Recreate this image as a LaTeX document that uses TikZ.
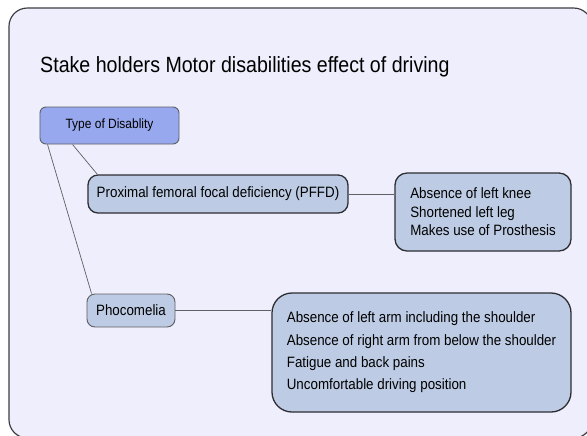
\documentclass[tikz,border=0pt]{standalone}
\usepackage{fontspec}
\setmainfont{Liberation Sans}[FakeStretch=0.89]
\usetikzlibrary{positioning}

\definecolor{pagebg}{RGB}{238,238,252}
\definecolor{framec}{RGB}{60,60,66}
\definecolor{typefill}{RGB}{152,168,238}
\definecolor{itemfill}{RGB}{189,204,228}
\definecolor{itemline}{RGB}{45,45,50}
\definecolor{linkc}{RGB}{95,95,100}

\begin{document}
\begin{tikzpicture}[x=.03cm,y=-.03cm,font=\fontsize{12.8}{15.8}\selectfont,
 frame/.style={draw=framec,line width=1pt,fill=pagebg,rounded corners=.55cm},
 typebox/.style={draw=linkc,line width=.8pt,fill=typefill,rounded corners=.18cm,
  minimum width=4.17cm,minimum height=1.11cm,inner sep=0pt,font=\fontsize{11.5}{13}\selectfont},
 subbox/.style={draw=itemline,line width=1.1pt,fill=itemfill,rounded corners=.3cm,
  minimum height=1.14cm,inner sep=0pt},
 smallbox/.style={draw=linkc,line width=.8pt,fill=itemfill,rounded corners=.24cm,
  minimum height=.99cm,inner sep=0pt},
 notebox/.style={draw=itemline,line width=1.1pt,fill=itemfill,align=left,inner sep=0pt},
 link/.style={draw=linkc,line width=.6pt}]
 \useasboundingbox (0,0) rectangle (587,435);
 \clip (0,0) rectangle (587,435);
 \path[frame] (9,8) rectangle (592,438);
 \node[anchor=base west,inner sep=0pt,font=\fontsize{18.8}{22}\selectfont] (title) at (40,72)
  {Stake holders Motor disabilities effect of driving};
 % types and their effects
 \node[typebox] (type) at (109.5,125.5) {Type of Disablity};
 \node[subbox,minimum width=7.8cm] (pffd) at (218,194)
  {Proximal femoral focal deficiency (PFFD)};
 \node[notebox,rounded corners=.36cm,minimum width=5.28cm,minimum height=2.34cm] (knee) at (483,212)
  {Absence of left knee\\Shortened left leg\\Makes use of Prosthesis};
 \node[smallbox,minimum width=2.64cm] (phoc) at (131,310.5) {Phocomelia};
 \node[notebox,rounded corners=.6cm,minimum width=8.97cm,minimum height=3.57cm] (arm) at (421.5,352.5)
  {Absence of left arm including the shoulder\\[3.2pt]
   Absence of right arm from below the shoulder\\[3.2pt]
   Fatigue and back pains\\[3.2pt]
   Uncomfortable driving position};
 \draw[link] ([xshift=.99cm]type.south west) -- ([xshift=.3cm]pffd.north west);
 \draw[link] ([xshift=.24cm]type.south west) -- ([xshift=.15cm]phoc.north west);
 \draw[link] (pffd.east) -- (pffd.east -| knee.west);
 \draw[link] (phoc.east) -- (phoc.east -| arm.west);
\end{tikzpicture}
\end{document}
